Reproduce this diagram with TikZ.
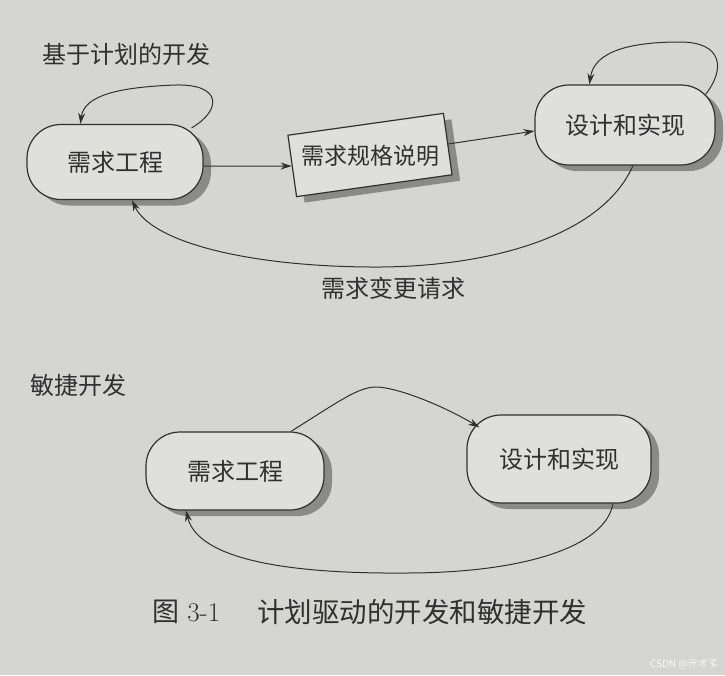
\documentclass[tikz,border=0pt]{standalone}
\usepackage{fontspec}
\newfontfamily\cjk{Noto Sans CJK SC}
\usetikzlibrary{shadows,arrows.meta,calc}
\definecolor{paper}{HTML}{D5D5D2}
\definecolor{boxfill}{HTML}{DFDFDC}
\definecolor{ink}{HTML}{303030}
\definecolor{shadowc}{HTML}{8A8A87}
\begin{document}
\begin{tikzpicture}[x=1pt,y=-1pt,
  boxbase/.style={draw=ink, line width=1.2pt, fill=boxfill, text=ink, inner sep=0pt,
    font=\cjk\fontsize{24}{28}\selectfont,
    drop shadow={shadow xshift=8pt, shadow yshift=-6pt, fill=shadowc, opacity=1}},
  roundbox/.style={boxbase, rounded corners=34pt},
  arr/.style={draw=ink, line width=1pt, -{Stealth[length=11pt,width=7pt]}},
  lab/.style={text=ink, inner sep=0pt, font=\cjk\fontsize{24}{28}\selectfont}]
\fill[paper] (0,0) rectangle (725,675);
\useasboundingbox (0,0) rectangle (725,675);

% ---- plan-driven ----
\node[lab, anchor=west] (t1) at (42,54) {基于计划的开发};
\node[roundbox, minimum width=176pt, minimum height=75pt] (req1) at (115,162) {需求工程};
\node[boxbase, rotate=8, minimum width=157pt, minimum height=62pt] (specbox) at (370,155) {};
\node[lab, font=\cjk\fontsize{23}{27}\selectfont] (spec) at (370,156) {需求规格说明};
\node[roundbox, minimum width=180pt, minimum height=80pt] (des1) at (625,125) {设计和实现};

\draw[arr] ([shift={(-12,4)}]req1.north east) .. controls (222,110) and (222,84) .. (176,85)
  .. controls (120,87) and (84,95) .. ([xshift=54pt]req1.north west);
\draw[arr] ([yshift=-4pt]req1.east) -- (specbox.west);
\draw[arr] (specbox.east) -- ([yshift=-6pt]des1.west);
\draw[arr] ([shift={(-10,10)}]des1.north east) .. controls (726,68) and (722,42) .. (680,42)
  .. controls (628,42) and (594,52) .. ([xshift=55pt]des1.north west);
\draw[arr] ([xshift=8pt]des1.south) .. controls (600,240) and (480,268) .. (370,267)
  .. controls (240,266) and (150,240) .. ([xshift=17pt]req1.south);
\node[lab] (chg) at (393,288) {需求变更请求};

% ---- agile ----
\node[lab, anchor=west] (t2) at (30,385) {敏捷开发};
\node[roundbox, minimum width=178pt, minimum height=78pt] (req2) at (235,471) {需求工程};
\node[roundbox, minimum width=184pt, minimum height=88pt] (des2) at (559,459) {设计和实现};

\draw[arr] ([xshift=56pt]req2.north) .. controls (338,402) and (358,387) .. (376,387)
  .. controls (396,387) and (442,405) .. ([shift={(13,13)}]des2.north west);
\draw[arr] ([xshift=54pt]des2.south) .. controls (605,548) and (520,573) .. (406,573)
  .. controls (290,574) and (198,560) .. ([xshift=-49pt]req2.south);

% ---- caption ----
\node[text=ink, inner sep=0pt, anchor=west, font=\fontsize{27}{30}\selectfont] (capnum) at (152,612)
  {{\cjk 图} 3-1};
\node[text=ink, inner sep=0pt, anchor=west, font=\cjk\fontsize{27.5}{30}\selectfont] (cap) at (257,612)
  {计划驱动的开发和敏捷开发};
\node[text=white, opacity=0.85, inner sep=0pt, anchor=east, font=\cjk\fontsize{10}{12}\selectfont] (wm) at (718,664) {CSDN @亓才孓};
\end{tikzpicture}
\end{document}
